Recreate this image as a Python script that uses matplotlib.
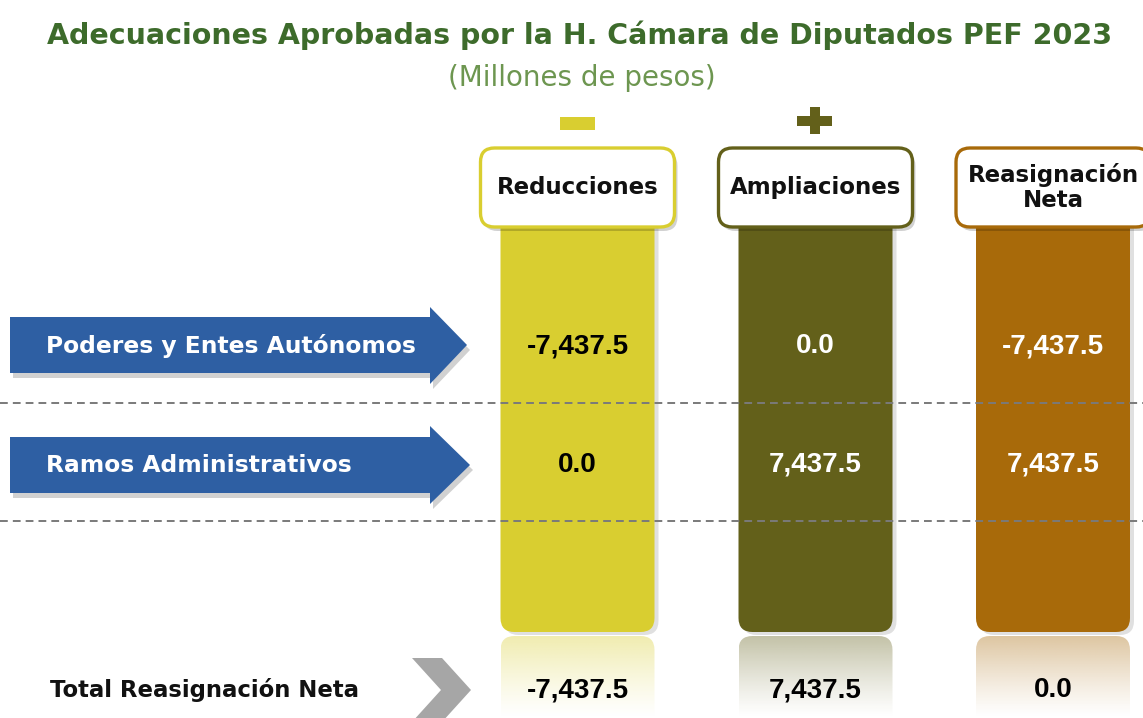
import numpy as np
import matplotlib.pyplot as plt
from matplotlib.patches import FancyBboxPatch, Polygon, Rectangle

# --------------------------------------------------------------------------- #
# Data
# --------------------------------------------------------------------------- #
title = "Adecuaciones Aprobadas por la H. Cámara de Diputados PEF 2023"
subtitle = "(Millones de pesos)"
row_labels = ["Poderes y Entes Autónomos", "Ramos Administrativos"]
col_labels = ["Reducciones", "Ampliaciones", "Reasignación\nNeta"]
reducciones = [-7437.5, 0.0]
ampliaciones = [0.0, 7437.5]
reasignacion = [-7437.5, 7437.5]
total_label = "Total Reasignación Neta"
totals = [-7437.5, 7437.5, 0.0]

# --------------------------------------------------------------------------- #
# Style
# --------------------------------------------------------------------------- #
W, H = 1143, 718
col_colors = ['#d9ce30', '#63601a', '#a86a0a']
val_colors = ['black', 'white', 'white']
blue = '#2e5fa3'
green_title = '#3d6b2b'
green_sub = '#6d9650'

col_x = [577.5, 815.5, 1053]   # column centres (px)
bar_w = 154
box_w, box_h = 194, 79
box_top = 148
bar_bottom = 632
row_y = [346, 465]
dash_y = [403, 521]

def fmt(v):
  return "{:,.1f}".format(v)

fig = plt.figure(figsize=(W/100, H/100), dpi=100)
ax = fig.add_axes([0, 0, 1, 1])
ax.set_xlim(0, W)
ax.set_ylim(H, 0)
ax.axis('off')

# Title
ax.text(580, 35, title, ha='center', va='center', fontsize=20.5,
        fontweight='bold', color=green_title, family='DejaVu Sans')
ax.text(582, 78, subtitle, ha='center', va='center', fontsize=20,
        color=green_sub, family='DejaVu Sans')

# Minus / plus signs
ax.add_patch(Rectangle((560, 117), 35, 13, color=col_colors[0], lw=0))
ax.add_patch(Rectangle((797, 116), 35, 10, color=col_colors[1], lw=0))
ax.add_patch(Rectangle((810, 107), 10, 27, color=col_colors[1], lw=0))

columns = [reducciones, ampliaciones, reasignacion]

for i, cx in enumerate(col_x):
  c = col_colors[i]
  x0 = cx - bar_w/2
  # bar shadow
  ax.add_patch(FancyBboxPatch((x0 + 4, 205), bar_w, bar_bottom - 202,
               boxstyle="round,pad=0,rounding_size=14", fc='#000000',
               alpha=0.12, lw=0, zorder=1))
  # bar
  ax.add_patch(FancyBboxPatch((x0, 200), bar_w, bar_bottom - 200,
               boxstyle="round,pad=0,rounding_size=14", fc=c, lw=0, zorder=2))
  # reflection
  rgb = np.array(plt.matplotlib.colors.to_rgb(c))
  n = 100
  alpha = np.linspace(0.45, 0.0, n) ** 1.2
  img = np.ones((n, 2, 4))
  img[:, :, :3] = rgb
  img[:, :, 3] = alpha[:, None]
  refl = FancyBboxPatch((x0, bar_bottom + 4), bar_w, 120,
                        boxstyle="round,pad=0,rounding_size=14",
                        fc='none', lw=0)
  ax.add_patch(refl)
  im = ax.imshow(img, extent=[x0, x0 + bar_w, H, bar_bottom + 4],
                 aspect='auto', zorder=1, interpolation='bilinear')
  im.set_clip_path(refl)
  # header box shadow + box
  bx0 = cx - box_w/2
  ax.add_patch(FancyBboxPatch((bx0 + 3, box_top + 4), box_w, box_h,
               boxstyle="round,pad=0,rounding_size=14", fc='#000000',
               alpha=0.18, lw=0, zorder=3))
  ax.add_patch(FancyBboxPatch((bx0, box_top), box_w, box_h,
               boxstyle="round,pad=0,rounding_size=14", fc='white',
               ec=c, lw=2.4, zorder=4))
  ax.text(cx, box_top + box_h/2, col_labels[i], ha='center', va='center',
          fontsize=16.5, fontweight='bold', color='#111111', zorder=5,
          linespacing=1.1, family='DejaVu Sans')
  # row values
  for j, v in enumerate(columns[i]):
    ax.text(cx, row_y[j], fmt(v), ha='center', va='center', fontsize=20,
            fontweight='bold', color=val_colors[i], zorder=6,
            family='Liberation Sans')
  # totals
  ax.text(cx, 690, fmt(totals[i]), ha='center', va='center', fontsize=20,
          fontweight='bold', color='black', zorder=6, family='Liberation Sans')

# Row arrows
arrows = [
  [(10, 317), (430, 317), (430, 307), (467, 345), (430, 384), (430, 373), (10, 373)],
  [(10, 437), (430, 437), (430, 426), (470, 465), (430, 504), (430, 493), (10, 493)],
]
for j, pts in enumerate(arrows):
  pts = np.array(pts, dtype=float)
  ax.add_patch(Polygon(pts + [3, 5], closed=True, fc='#000000', alpha=0.18,
                       lw=0, zorder=2))
  ax.add_patch(Polygon(pts, closed=True, fc=blue, lw=0, zorder=3))
  ax.text(46, row_y[j], row_labels[j], ha='left', va='center', fontsize=16.8,
          fontweight='bold', color='white', zorder=4, family='DejaVu Sans')

# Dashed separators
for y in dash_y:
  ax.plot([0, W], [y, y], color='#7a7a7a', lw=1.4, dashes=(4, 2.6), zorder=5)

# Total row
ax.text(50, 690, total_label, ha='left', va='center', fontsize=16.4,
        fontweight='bold', color='#111111', zorder=4, family='DejaVu Sans')
chev = [(412, 658), (442, 658), (471, 690), (442, 722), (412, 722), (441, 690)]
ax.add_patch(Polygon(chev, closed=True, fc='#a6a6a6', lw=0, zorder=3))

fig.savefig('out.png', dpi=100)
